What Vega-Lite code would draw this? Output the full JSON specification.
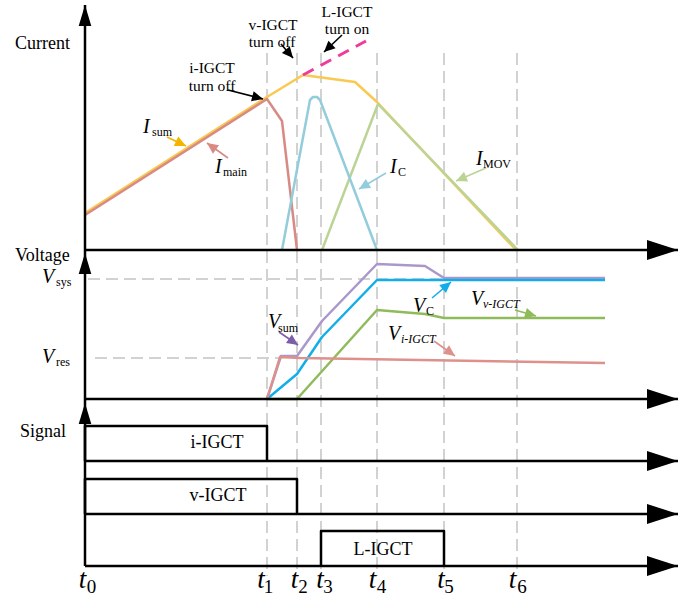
{
  "$schema": "https://vega.github.io/schema/vega-lite/v6.json",
  "width": 690,
  "height": 598,
  "padding": 0,
  "autosize": {"type": "none"},
  "background": "white",
  "config": {"view": {"stroke": null}},
  "datasets": {
    "grid": [
      {"x": 267, "y": 53, "x2": 267, "y2": 576},
      {"x": 297, "y": 53, "x2": 297, "y2": 576},
      {"x": 321, "y": 53, "x2": 321, "y2": 576},
      {"x": 377, "y": 53, "x2": 377, "y2": 576},
      {"x": 444, "y": 53, "x2": 444, "y2": 576},
      {"x": 517, "y": 53, "x2": 517, "y2": 576},
      {"x": 88, "y": 279, "x2": 605, "y2": 279},
      {"x": 95, "y": 358, "x2": 280, "y2": 358}
    ],
    "curves": [
      {"s": "Isum", "i": 0, "x": 85, "y": 213},
      {"s": "Isum", "i": 1, "x": 267, "y": 97},
      {"s": "Isum", "i": 2, "x": 303, "y": 75},
      {"s": "Isum", "i": 3, "x": 355, "y": 82},
      {"s": "Isum", "i": 4, "x": 377, "y": 102},
      {"s": "Isum", "i": 5, "x": 516, "y": 250},
      {"s": "IMOV", "i": 0, "x": 322, "y": 250},
      {"s": "IMOV", "i": 1, "x": 378, "y": 104},
      {"s": "IMOV", "i": 2, "x": 518, "y": 250},
      {"s": "Imain", "i": 0, "x": 85, "y": 215},
      {"s": "Imain", "i": 1, "x": 267, "y": 99},
      {"s": "Imain", "i": 2, "x": 282, "y": 121},
      {"s": "Imain", "i": 3, "x": 297, "y": 250},
      {"s": "IC", "i": 0, "x": 282, "y": 250},
      {"s": "IC", "i": 1, "x": 310, "y": 100},
      {"s": "IC", "i": 2, "x": 313, "y": 97},
      {"s": "IC", "i": 3, "x": 317, "y": 97},
      {"s": "IC", "i": 4, "x": 320, "y": 100},
      {"s": "IC", "i": 5, "x": 377, "y": 250},
      {"s": "Vsum", "i": 0, "x": 267, "y": 399},
      {"s": "Vsum", "i": 1, "x": 281, "y": 356},
      {"s": "Vsum", "i": 2, "x": 297, "y": 356},
      {"s": "Vsum", "i": 3, "x": 322, "y": 321},
      {"s": "Vsum", "i": 4, "x": 377, "y": 264},
      {"s": "Vsum", "i": 5, "x": 425, "y": 266},
      {"s": "Vsum", "i": 6, "x": 444, "y": 278},
      {"s": "Vsum", "i": 7, "x": 605, "y": 278},
      {"s": "VC", "i": 0, "x": 267, "y": 399},
      {"s": "VC", "i": 1, "x": 297, "y": 374},
      {"s": "VC", "i": 2, "x": 322, "y": 337},
      {"s": "VC", "i": 3, "x": 377, "y": 280},
      {"s": "VC", "i": 4, "x": 605, "y": 280},
      {"s": "Vv", "i": 0, "x": 267, "y": 399},
      {"s": "Vv", "i": 1, "x": 297, "y": 399},
      {"s": "Vv", "i": 2, "x": 377, "y": 310},
      {"s": "Vv", "i": 3, "x": 425, "y": 314},
      {"s": "Vv", "i": 4, "x": 444, "y": 318},
      {"s": "Vv", "i": 5, "x": 605, "y": 318},
      {"s": "Vi", "i": 0, "x": 267, "y": 399},
      {"s": "Vi", "i": 1, "x": 280, "y": 357},
      {"s": "Vi", "i": 2, "x": 300, "y": 358},
      {"s": "Vi", "i": 3, "x": 605, "y": 363},
      {"s": "sigI", "i": 0, "x": 85, "y": 461},
      {"s": "sigI", "i": 1, "x": 85, "y": 426},
      {"s": "sigI", "i": 2, "x": 267, "y": 426},
      {"s": "sigI", "i": 3, "x": 267, "y": 461},
      {"s": "sigV", "i": 0, "x": 85, "y": 514},
      {"s": "sigV", "i": 1, "x": 85, "y": 479},
      {"s": "sigV", "i": 2, "x": 297, "y": 479},
      {"s": "sigV", "i": 3, "x": 297, "y": 514},
      {"s": "sigL", "i": 0, "x": 321, "y": 566},
      {"s": "sigL", "i": 1, "x": 321, "y": 531},
      {"s": "sigL", "i": 2, "x": 444, "y": 531},
      {"s": "sigL", "i": 3, "x": 444, "y": 566}
    ],
    "pinkline": [
      {"x": 303, "y": 75, "x2": 366, "y2": 41}
    ],
    "arrows": [
      {"k": "h", "c": "black", "x": 85, "y": 250, "x2": 678, "y2": 250},
      {"k": "h", "c": "black", "x": 85, "y": 399, "x2": 678, "y2": 399},
      {"k": "h", "c": "black", "x": 85, "y": 461, "x2": 678, "y2": 461},
      {"k": "h", "c": "black", "x": 85, "y": 514, "x2": 678, "y2": 514},
      {"k": "h", "c": "black", "x": 85, "y": 566, "x2": 678, "y2": 566},
      {"k": "v", "c": "black", "x": 85, "y": 566, "x2": 85, "y2": 403},
      {"k": "v", "c": "black", "x": 85, "y": 403, "x2": 85, "y2": 253},
      {"k": "v", "c": "black", "x": 85, "y": 253, "x2": 85, "y2": 5},
      {"k": "a", "c": "aIsum", "x": 167, "y": 137, "x2": 186, "y2": 146},
      {"k": "a", "c": "Imain", "x": 228, "y": 158, "x2": 207, "y2": 143},
      {"k": "a", "c": "black", "x": 228, "y": 90, "x2": 263, "y2": 99},
      {"k": "a", "c": "black", "x": 281, "y": 44, "x2": 293, "y2": 58},
      {"k": "a", "c": "black", "x": 342, "y": 35, "x2": 324, "y2": 52},
      {"k": "a", "c": "IC", "x": 386, "y": 173, "x2": 359, "y2": 189},
      {"k": "a", "c": "IMOV", "x": 486, "y": 168, "x2": 456, "y2": 181},
      {"k": "a", "c": "aVsum", "x": 279, "y": 332, "x2": 298, "y2": 345},
      {"k": "a", "c": "VC", "x": 432, "y": 298, "x2": 451, "y2": 282},
      {"k": "a", "c": "Vv", "x": 515, "y": 310, "x2": 536, "y2": 316},
      {"k": "a", "c": "Vi", "x": 434, "y": 341, "x2": 455, "y2": 356}
    ],
    "texts": [
      {"s": "label", "x": 15, "y": 49, "t": "Current"},
      {"s": "label", "x": 15, "y": 261, "t": "Voltage"},
      {"s": "label", "x": 20, "y": 437, "t": "Signal"},
      {"s": "ann", "x": 273, "y": 30, "t": "v-IGCT"},
      {"s": "ann", "x": 272, "y": 47, "t": "turn off"},
      {"s": "ann", "x": 347, "y": 17, "t": "L-IGCT"},
      {"s": "ann", "x": 347, "y": 34, "t": "turn on"},
      {"s": "ann", "x": 212, "y": 73, "t": "i-IGCT"},
      {"s": "ann", "x": 212, "y": 91, "t": "turn off"},
      {"s": "sig", "x": 217, "y": 448, "t": "i-IGCT"},
      {"s": "sig", "x": 218, "y": 501, "t": "v-IGCT"},
      {"s": "sig", "x": 383, "y": 555, "t": "L-IGCT"},
      {"s": "iv", "x": 143, "y": 133, "t": "I"},
      {"s": "iv", "x": 215, "y": 173, "t": "I"},
      {"s": "iv", "x": 390, "y": 173, "t": "I"},
      {"s": "iv", "x": 476, "y": 165, "t": "I"},
      {"s": "iv", "x": 42, "y": 283, "t": "V"},
      {"s": "iv", "x": 42, "y": 363, "t": "V"},
      {"s": "iv", "x": 268, "y": 328, "t": "V"},
      {"s": "iv", "x": 413, "y": 312, "t": "V"},
      {"s": "iv", "x": 471, "y": 305, "t": "V"},
      {"s": "iv", "x": 388, "y": 340, "t": "V"},
      {"s": "sub", "x": 152, "y": 136, "t": "sum"},
      {"s": "sub", "x": 223, "y": 176, "t": "main"},
      {"s": "sub", "x": 398, "y": 176, "t": "C"},
      {"s": "sub", "x": 483, "y": 168, "t": "MOV"},
      {"s": "sub", "x": 56, "y": 286, "t": "sys"},
      {"s": "sub", "x": 56, "y": 366, "t": "res"},
      {"s": "sub", "x": 278, "y": 332, "t": "sum"},
      {"s": "sub", "x": 426, "y": 315, "t": "C"},
      {"s": "subi", "x": 483, "y": 308, "t": "v-IGCT"},
      {"s": "subi", "x": 401, "y": 343, "t": "i-IGCT"},
      {"s": "tl", "x": 82.5, "y": 588, "t": "t"},
      {"s": "tl", "x": 261, "y": 588, "t": "t"},
      {"s": "tl", "x": 294.5, "y": 588, "t": "t"},
      {"s": "tl", "x": 320, "y": 588, "t": "t"},
      {"s": "tl", "x": 372.5, "y": 588, "t": "t"},
      {"s": "tl", "x": 441, "y": 588, "t": "t"},
      {"s": "tl", "x": 512.5, "y": 588, "t": "t"},
      {"s": "tsub", "x": 91.5, "y": 593, "t": "0"},
      {"s": "tsub", "x": 268.5, "y": 593, "t": "1"},
      {"s": "tsub", "x": 303, "y": 593, "t": "2"},
      {"s": "tsub", "x": 328, "y": 593, "t": "3"},
      {"s": "tsub", "x": 381.5, "y": 593, "t": "4"},
      {"s": "tsub", "x": 449, "y": 593, "t": "5"},
      {"s": "tsub", "x": 522, "y": 593, "t": "6"}
    ]
  },
  "encoding": {
    "x": {"field": "x", "type": "quantitative", "axis": null, "scale": {"domain": [0, 690], "nice": false, "zero": false}},
    "y": {"field": "y", "type": "quantitative", "axis": null, "scale": {"domain": [0, 598], "nice": false, "zero": false, "reverse": true}}
  },
  "layer": [
    {
      "data": {"name": "grid"},
      "mark": {"type": "rule", "color": "#D2D2D2", "strokeWidth": 2, "strokeDash": [12, 6]},
      "encoding": {
        "x2": {"field": "x2"},
        "y2": {"field": "y2"}
      }
    },
    {
      "data": {"name": "curves"},
      "mark": {"type": "line", "strokeWidth": 2.5, "strokeJoin": "round"},
      "encoding": {
        "detail": {"field": "s", "type": "nominal"},
        "order": {"field": "i", "type": "quantitative"},
        "color": {
          "field": "s", "type": "nominal", "legend": null,
          "scale": {
            "domain": ["Isum", "IMOV", "Imain", "IC", "Vsum", "VC", "Vv", "Vi", "sigI", "sigV", "sigL", "black", "aIsum", "aVsum"],
            "range": ["#F9C950", "#BBD496", "#D88A83", "#93CCDB", "#AA98CA", "#12AEEA", "#8FBB5B", "#DE918B", "#000000", "#000000", "#000000", "#000000", "#F4B400", "#7C5DA8"]
          }
        }
      }
    },
    {
      "data": {"name": "pinkline"},
      "mark": {"type": "rule", "color": "#EE3C9E", "strokeWidth": 3, "strokeDash": [12, 8]},
      "encoding": {
        "x2": {"field": "x2"},
        "y2": {"field": "y2"}
      }
    },
    {
      "data": {"name": "arrows"},
      "transform": [{"filter": "datum.k != 'a'"}],
      "mark": {"type": "rule", "color": "#000000", "strokeWidth": 2.5},
      "encoding": {
        "x2": {"field": "x2"},
        "y2": {"field": "y2"}
      }
    },
    {
      "data": {"name": "arrows"},
      "transform": [{"filter": "datum.k == 'a'"}],
      "mark": {"type": "rule", "strokeWidth": 1.6},
      "encoding": {
        "x2": {"field": "x2"},
        "y2": {"field": "y2"},
        "color": {
          "field": "c", "type": "nominal", "legend": null,
          "scale": {
            "domain": ["Isum", "IMOV", "Imain", "IC", "Vsum", "VC", "Vv", "Vi", "sigI", "sigV", "sigL", "black", "aIsum", "aVsum"],
            "range": ["#F9C950", "#BBD496", "#D88A83", "#93CCDB", "#AA98CA", "#12AEEA", "#8FBB5B", "#DE918B", "#000000", "#000000", "#000000", "#000000", "#F4B400", "#7C5DA8"]
          }
        }
      }
    },
    {
      "data": {"name": "arrows"},
      "transform": [
        {"filter": "datum.k == 'h'"},
        {"calculate": "atan2(datum.x2 - datum.x, datum.y - datum.y2) * 180 / PI", "as": "ang"}
      ],
      "mark": {"type": "point", "filled": true, "opacity": 1, "color": "#000000", "strokeWidth": 0, "shape": "M0,0L-0.65,2L0.65,2Z", "size": 961},
      "encoding": {
        "x": {"field": "x2", "type": "quantitative"},
        "y": {"field": "y2", "type": "quantitative"},
        "angle": {"field": "ang", "type": "quantitative", "scale": null}
      }
    },
    {
      "data": {"name": "arrows"},
      "transform": [
        {"filter": "datum.k == 'v'"},
        {"calculate": "atan2(datum.x2 - datum.x, datum.y - datum.y2) * 180 / PI", "as": "ang"}
      ],
      "mark": {"type": "point", "filled": true, "opacity": 1, "color": "#000000", "strokeWidth": 0, "shape": "M0,0L-0.6,2L0.6,2Z", "size": 441},
      "encoding": {
        "x": {"field": "x2", "type": "quantitative"},
        "y": {"field": "y2", "type": "quantitative"},
        "angle": {"field": "ang", "type": "quantitative", "scale": null}
      }
    },
    {
      "data": {"name": "arrows"},
      "transform": [
        {"filter": "datum.k == 'a'"},
        {"calculate": "atan2(datum.x2 - datum.x, datum.y - datum.y2) * 180 / PI", "as": "ang"}
      ],
      "mark": {"type": "point", "filled": true, "opacity": 1, "strokeWidth": 0, "shape": "M0,0L-0.95,2L0.95,2Z", "size": 121},
      "encoding": {
        "x": {"field": "x2", "type": "quantitative"},
        "y": {"field": "y2", "type": "quantitative"},
        "angle": {"field": "ang", "type": "quantitative", "scale": null},
        "color": {
          "field": "c", "type": "nominal", "legend": null,
          "scale": {
            "domain": ["Isum", "IMOV", "Imain", "IC", "Vsum", "VC", "Vv", "Vi", "sigI", "sigV", "sigL", "black", "aIsum", "aVsum"],
            "range": ["#F9C950", "#BBD496", "#D88A83", "#93CCDB", "#AA98CA", "#12AEEA", "#8FBB5B", "#DE918B", "#000000", "#000000", "#000000", "#000000", "#F4B400", "#7C5DA8"]
          }
        }
      }
    },
    {
      "data": {"name": "texts"},
      "transform": [{"filter": "datum.s == 'label'"}],
      "mark": {"type": "text", "font": "Liberation Serif", "fontSize": 18, "align": "left", "baseline": "alphabetic", "color": "#000000"},
      "encoding": {"text": {"field": "t"}}
    },
    {
      "data": {"name": "texts"},
      "transform": [{"filter": "datum.s == 'ann'"}],
      "mark": {"type": "text", "font": "Liberation Serif", "fontSize": 15.5, "align": "center", "baseline": "alphabetic", "color": "#000000"},
      "encoding": {"text": {"field": "t"}}
    },
    {
      "data": {"name": "texts"},
      "transform": [{"filter": "datum.s == 'sig'"}],
      "mark": {"type": "text", "font": "Liberation Serif", "fontSize": 18, "align": "center", "baseline": "alphabetic", "color": "#000000"},
      "encoding": {"text": {"field": "t"}}
    },
    {
      "data": {"name": "texts"},
      "transform": [{"filter": "datum.s == 'iv'"}],
      "mark": {"type": "text", "font": "Liberation Serif", "fontStyle": "italic", "fontSize": 20, "align": "left", "baseline": "alphabetic", "color": "#000000"},
      "encoding": {"text": {"field": "t"}}
    },
    {
      "data": {"name": "texts"},
      "transform": [{"filter": "datum.s == 'sub'"}],
      "mark": {"type": "text", "font": "Liberation Serif", "fontSize": 12, "align": "left", "baseline": "alphabetic", "color": "#000000"},
      "encoding": {"text": {"field": "t"}}
    },
    {
      "data": {"name": "texts"},
      "transform": [{"filter": "datum.s == 'subi'"}],
      "mark": {"type": "text", "font": "Liberation Serif", "fontStyle": "italic", "fontSize": 12, "align": "left", "baseline": "alphabetic", "color": "#000000"},
      "encoding": {"text": {"field": "t"}}
    },
    {
      "data": {"name": "texts"},
      "transform": [{"filter": "datum.s == 'tl'"}],
      "mark": {"type": "text", "font": "Liberation Serif", "fontStyle": "italic", "fontSize": 27, "align": "center", "baseline": "alphabetic", "color": "#000000"},
      "encoding": {"text": {"field": "t"}}
    },
    {
      "data": {"name": "texts"},
      "transform": [{"filter": "datum.s == 'tsub'"}],
      "mark": {"type": "text", "font": "Liberation Serif", "fontSize": 19, "align": "center", "baseline": "alphabetic", "color": "#000000"},
      "encoding": {"text": {"field": "t"}}
    }
  ]
}
